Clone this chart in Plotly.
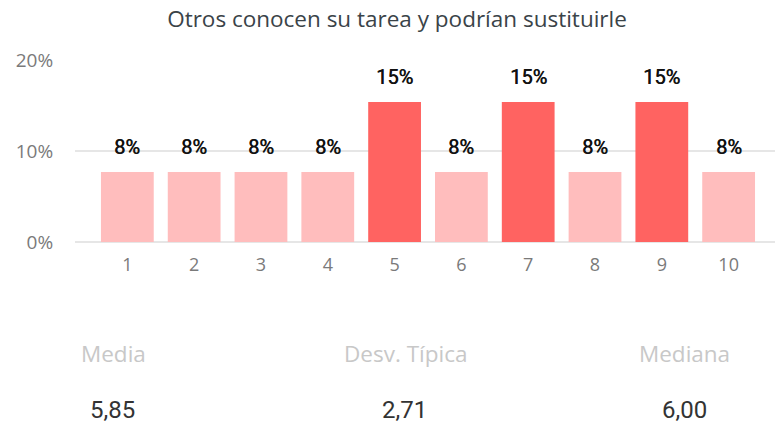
import plotly.graph_objects as go

categories = [1, 2, 3, 4, 5, 6, 7, 8, 9, 10]
values = [1/13, 1/13, 1/13, 1/13, 2/13, 1/13, 2/13, 1/13, 2/13, 1/13]
bar_labels = ["8%", "8%", "8%", "8%", "15%", "8%", "15%", "8%", "15%", "8%"]
highlight = [False, False, False, False, True, False, True, False, True, False]
y_ticks = [0, 0.1, 0.2]
y_tick_labels = ["0%", "10%", "20%"]
stat_names = ["Media", "Desv. Típica", "Mediana"]
stat_values = ["5,85", "2,71", "6,00"]

LIGHT = "#FFBDBD"
DARK = "#FF6361"

fig = go.Figure()
fig.add_trace(go.Bar(
    x=categories, y=values,
    marker=dict(color=[DARK if h else LIGHT for h in highlight], line=dict(width=0)),
    hoverinfo="skip",
))

for c, v, t in zip(categories, values, bar_labels):
    fig.add_annotation(x=c, y=v, text=t, showarrow=False, yanchor="bottom", yshift=11,
                       font=dict(family="Roboto", size=20, color="#111111",
                                 shadow="0.6px 0 0 #111111"))

W, H = 777, 424
ml, mr, mt, mb = 75, 2, 60, 182
plot_h = H - mt - mb

def px_to_paper_y(py):
    return (H - mb - py) / plot_h

def px_to_paper_x(px):
    return (px - ml) / (W - ml - mr)

stat_name_x = [79, 405, 684]
stat_name_anchor = ["left", "center", "center"]
stat_val_x = [112, 404, 684]
for i in range(3):
    fig.add_annotation(xref="paper", yref="paper", x=px_to_paper_x(stat_name_x[i]),
                       y=px_to_paper_y(353), text=stat_names[i], showarrow=False,
                       xanchor=stat_name_anchor[i], yanchor="middle",
                       font=dict(family="Open Sans", size=22.5, color="#C8C8C8"))
    fig.add_annotation(xref="paper", yref="paper", x=px_to_paper_x(stat_val_x[i]),
                       y=px_to_paper_y(410), text=stat_values[i], showarrow=False,
                       xanchor="center", yanchor="middle",
                       font=dict(family="Roboto", size=24, color="#333333"))

fig.update_layout(
    width=W, height=H,
    margin=dict(l=ml, r=mr, t=mt, b=mb, pad=0),
    paper_bgcolor="white", plot_bgcolor="white",
    bargap=0.21,
    showlegend=False,
    title=dict(text="Otros conocen su tarea y podrían sustituirle", x=397/W, xanchor="center",
               y=1 - 19/H, yanchor="middle",
               font=dict(family="Open Sans", size=22.5, color="#3A4348")),
    xaxis=dict(range=[1 - 52.5/67, 10 + 46.5/67], tickmode="array", tickvals=categories,
               ticktext=[str(c) for c in categories], showgrid=False, zeroline=False,
               showline=False, ticks="outside", ticklen=6, tickcolor="white",
               tickfont=dict(family="Open Sans", size=18, color="#7A7A7A")),
    yaxis=dict(range=[0, 0.2], tickmode="array", tickvals=y_ticks, ticktext=y_tick_labels,
               showgrid=True, gridcolor="#E6E6E6", gridwidth=1.5, zeroline=True,
               zerolinecolor="#E6E6E6", zerolinewidth=1.5, showline=False,
               ticks="outside", ticklen=17, tickcolor="white",
               tickfont=dict(family="Open Sans", size=19, color="#7A7A7A")),
)

fig.write_html("out.html", config={"displayModeBar": False},
               post_script="document.body.style.margin='0';document.body.style.overflow='hidden';")
